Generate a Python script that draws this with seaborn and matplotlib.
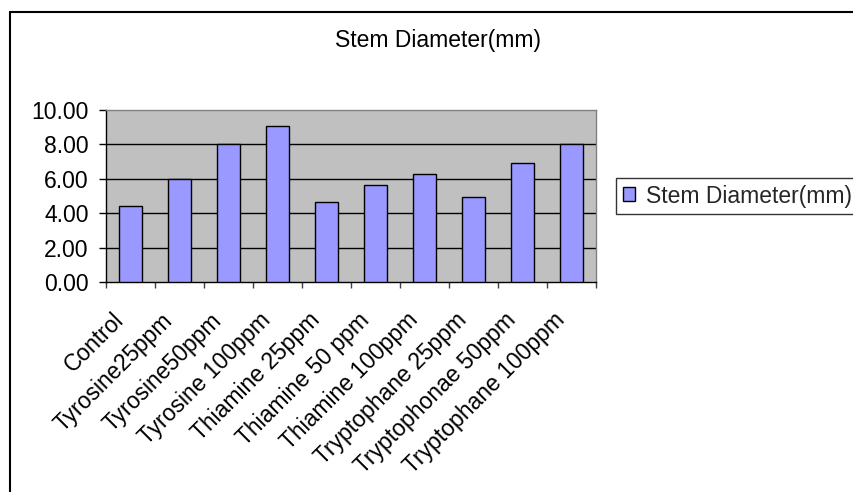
import matplotlib
matplotlib.use("Agg")
import matplotlib.pyplot as plt
import matplotlib.transforms as mtransforms
from matplotlib.lines import Line2D
import numpy as np
import pandas as pd
import seaborn as sns

# Stem diameter per treatment
treatments = ["Control", "Tyrosine25ppm", "Tyrosine50ppm", "Tyrosine 100ppm",
              "Thiamine 25ppm", "Thiamine 50 ppm", "Thiamine 100ppm",
              "Tryptophane 25ppm", "Tryptophonae 50ppm", "Tryptophane 100ppm"]
stem_diameter = [4.42, 5.97, 8.04, 9.09, 4.63, 5.66, 6.28, 4.94, 6.90, 8.04]
series_name = "Stem Diameter(mm)"
y_ticks = [0, 2, 4, 6, 8, 10]

df = pd.DataFrame({"treatment": treatments, "value": stem_diameter})

sns.set_theme(style="white")
plt.rcParams["font.family"] = ["Liberation Sans", "DejaVu Sans"]
FS = 16.5

fig = plt.figure(figsize=(8.54, 4.92), dpi=100)
W, H = 854, 492
ax = fig.add_axes([106 / W, (H - 282) / H, 490 / W, 172 / H])
ax.set_facecolor("#C0C0C0")

sns.barplot(data=df, x="treatment", y="value", ax=ax, color="#9999FF",
            saturation=1, width=0.45, edgecolor="black", linewidth=1.0,
            zorder=3)

ax.set_xlim(-0.5, len(treatments) - 0.5)
ax.set_ylim(0, 10)
ax.set_xlabel("")
ax.set_ylabel("")

# horizontal gridlines
for v in y_ticks[1:-1]:
    ax.axhline(v, color="black", linewidth=1.0, zorder=1)

# axes frame
for side in ("left", "bottom"):
    ax.spines[side].set_color("black")
    ax.spines[side].set_linewidth(1.0)
for side in ("top", "right"):
    ax.spines[side].set_color("#808080")
    ax.spines[side].set_linewidth(1.0)

# y axis
ax.set_yticks(y_ticks)
ax.set_yticklabels([f"{v:.2f}" for v in y_ticks], fontsize=FS, color="black")
ax.tick_params(axis="y", which="major", left=True, length=5, width=1,
               color="black", pad=7.5, direction="out")

# x axis: labels at category centres, tick marks at category boundaries
ax.set_xticks(np.arange(len(treatments)))
ax.set_xticklabels(treatments, fontsize=FS, color="black",
                   rotation=45, ha="right", va="center", rotation_mode="anchor")
ax.tick_params(axis="x", which="major", bottom=True, length=0, pad=25)
ax.set_xticks(np.arange(len(treatments) + 1) - 0.5, minor=True)
ax.tick_params(axis="x", which="minor", bottom=True, length=4.5, width=1,
               color="#404040", direction="out")
shift = mtransforms.ScaledTranslation(-10 / 100, 0, fig.dpi_scale_trans)
for lbl in ax.get_xticklabels():
    lbl.set_transform(lbl.get_transform() + shift)

# title
fig.text(438 / W, 1 - 40 / H, series_name, ha="center", va="center",
         fontsize=FS, color="black")

# legend
leg = ax.legend(handles=[ax.patches[0]], labels=[series_name],
                loc="center left", bbox_to_anchor=(616 / W, 1 - 196 / H),
                bbox_transform=fig.transFigure, fontsize=FS, frameon=True,
                fancybox=False, edgecolor="black", handlelength=0.55,
                handleheight=0.55, handletextpad=0.45, borderpad=0.3,
                borderaxespad=0)
leg.get_frame().set_linewidth(1.0)

# outer chart frame
fig.add_artist(Line2D([10 / W, 10 / W], [0, 1 - 12 / H],
                      transform=fig.transFigure, color="black", linewidth=1.5))
fig.add_artist(Line2D([10 / W, 1], [1 - 12 / H, 1 - 12 / H],
                      transform=fig.transFigure, color="black", linewidth=1.5))

fig.savefig("out.png", dpi=100, facecolor="white")
